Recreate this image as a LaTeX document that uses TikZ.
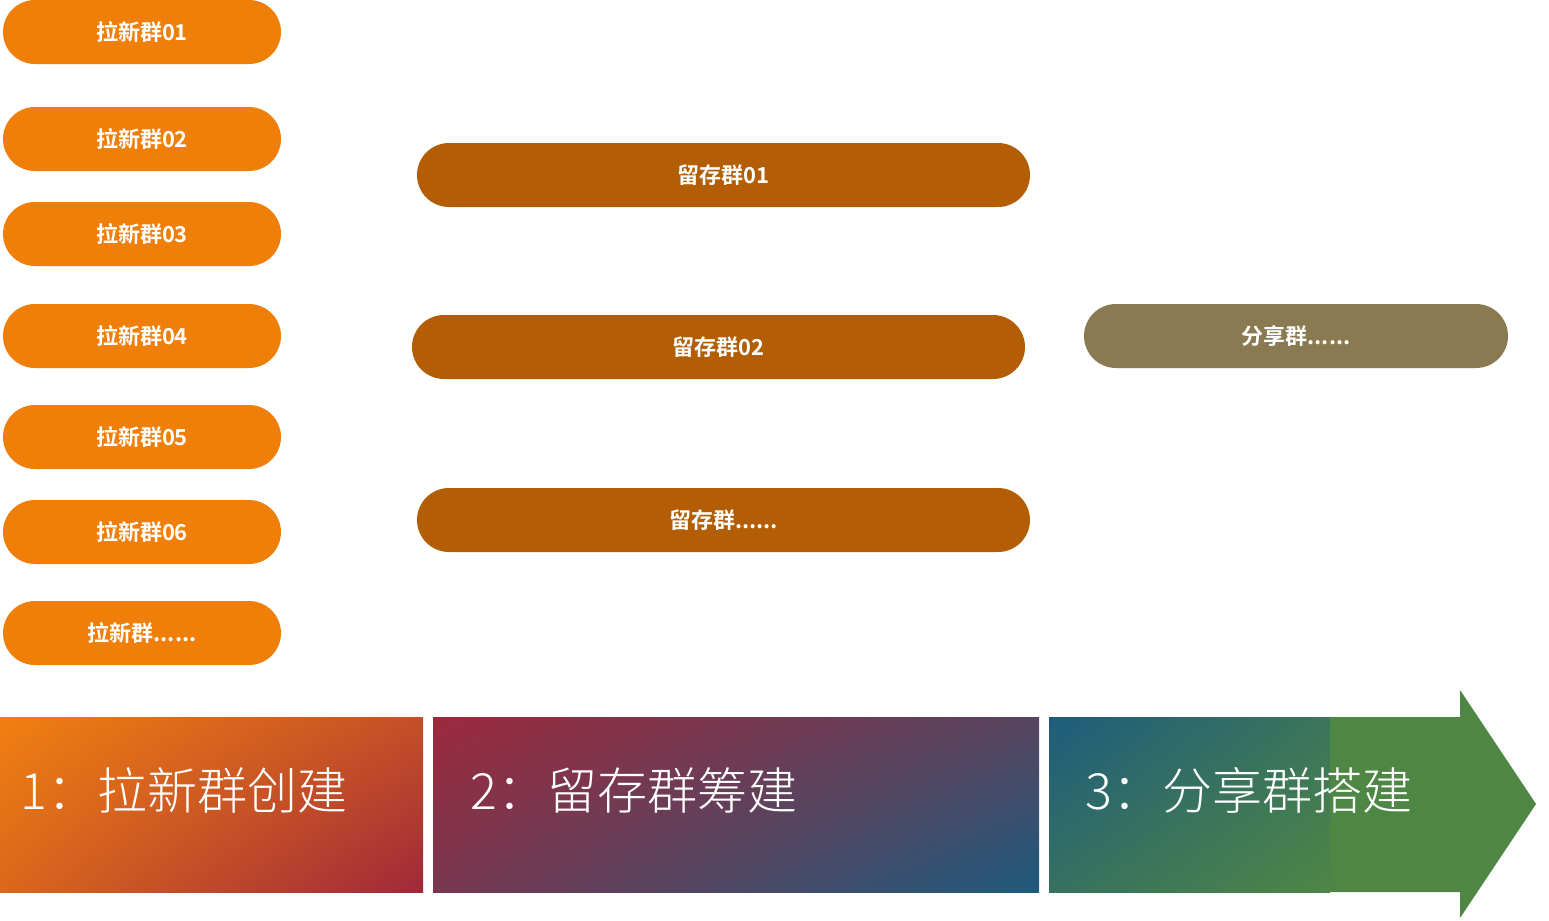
\documentclass[tikz,border=0pt]{standalone}
\usepackage{fontspec}
\newfontfamily\cjk{Noto Sans CJK SC}[BoldFont={* Bold}]
\newfontfamily\cjklight{Noto Sans CJK SC}[UprightFont={* Light}]
\usetikzlibrary{shapes.misc,shadings}
\definecolor{pillA}{HTML}{F07F0A}
\definecolor{pillB}{HTML}{B35E05}
\definecolor{pillC}{HTML}{8A7A52}
\definecolor{arrowgreen}{HTML}{4E8744}
\definecolor{gA1}{HTML}{F08010}
\definecolor{gA2}{HTML}{A0283A}
\definecolor{gB1}{HTML}{9C2A3E}
\definecolor{gB2}{HTML}{1E5A7C}
\definecolor{gC1}{HTML}{1E5C7C}
\definecolor{gC2}{HTML}{4E8645}
\tikzset{
  pill/.style={rounded rectangle, inner sep=0pt, minimum height=32pt,
    text=white, font=\cjk\bfseries\fontsize{11}{13}\selectfont},
  pillleft/.style={pill, fill=pillA, minimum width=139pt},
  pillmid/.style={pill, fill=pillB, minimum width=306.5pt},
  pillright/.style={pill, fill=pillC, minimum width=212pt},
  stagebar/.style={rectangle, inner sep=0pt, minimum height=87.5pt},
  stagetext/.style={anchor=west, inner sep=0pt, text=white,
    font=\cjklight\fontsize{25}{28}\selectfont}
}
\begin{document}
\begin{tikzpicture}[x=0.5pt,y=-0.5pt]
\useasboundingbox (0,0) rectangle (1549,921);
% left column
\node[pillleft] (l1) at (142,32) {拉新群01};
\node[pillleft] (l2) at (142,139) {拉新群02};
\node[pillleft] (l3) at (142,234) {拉新群03};
\node[pillleft] (l4) at (142,336) {拉新群04};
\node[pillleft] (l5) at (142,437) {拉新群05};
\node[pillleft] (l6) at (142,532) {拉新群06};
\node[pillleft] (l7) at (142,633) {拉新群......};
% middle column
\node[pillmid] (m1) at (723.5,175) {留存群01};
\node[pillmid] (m2) at (718.5,347) {留存群02};
\node[pillmid] (m3) at (723.5,520) {留存群......};
% right
\node[pillright] (r1) at (1296,336) {分享群......};
% green arrow
\fill[arrowgreen] (1049,717) -- (1460,717) -- (1460,690) -- (1536,804)
  -- (1460,918) -- (1460,892) -- (1049,892) -- cycle;
% stage bars
\node[stagebar, minimum width=211.5pt, shade, upper left=gA1, lower right=gA2,
  upper right=gA1!45!gA2, lower left=gA1!72!gA2] (s1) at (211.5,804.5) {};
\node[stagebar, minimum width=303pt, shade, upper left=gB1, lower right=gB2,
  upper right=gB1!45!gB2, lower left=gB1!72!gB2] (s2) at (736,804.5) {};
\node[stagebar, minimum width=140.5pt, shade, upper left=gC1, lower right=gC2,
  upper right=gC1!40!gC2, lower left=gC1!50!gC2] (s3) at (1189.5,804.5) {};
\node[stagetext] (t1) at (20,790) {1：拉新群创建};
\node[stagetext] (t2) at (470,790) {2：留存群筹建};
\node[stagetext] (t3) at (1085,790) {3：分享群搭建};
\end{tikzpicture}
\end{document}
